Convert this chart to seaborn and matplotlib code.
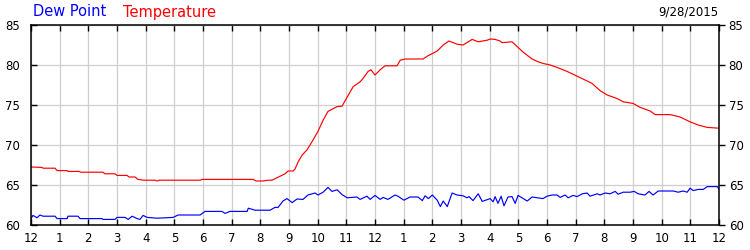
import matplotlib
matplotlib.use("Agg")
import matplotlib.pyplot as plt
import seaborn as sns
import pandas as pd

# Temperature readings (hours since midnight, deg F)
temp_hours = [0.0, 0.38, 0.42, 0.84, 0.91, 1.26, 1.29, 1.67, 1.74, 2.51, 2.58, 2.93,
              3.0, 3.35, 3.42, 3.63, 3.73, 3.94, 4.33, 4.40, 4.47, 5.90, 5.97, 7.75,
              7.85, 8.09, 8.27, 8.41, 8.86, 8.97, 9.14, 9.21, 9.32, 9.46, 9.63, 9.80,
              10.01, 10.19, 10.36, 10.68, 10.85, 11.03, 11.24, 11.48, 11.58, 11.76, 11.86,
              12.0, 12.18, 12.35, 12.77, 12.88, 13.05, 13.68, 13.82, 14.17, 14.38, 14.58,
              14.86, 15.07, 15.39, 15.60, 15.91, 16.02, 16.19, 16.36, 16.43, 16.78, 16.96,
              17.17, 17.48, 17.66, 17.86, 18.11, 18.35, 18.70, 19.05, 19.40, 19.57, 19.85,
              20.10, 20.45, 20.66, 21.00, 21.25, 21.60, 21.77, 22.30, 22.64, 22.99, 23.27,
              23.59, 24.0]
temp_values = [67.25, 67.2, 67.1, 67.1, 66.8, 66.8, 66.7, 66.7, 66.6, 66.6, 66.4, 66.4,
               66.2, 66.2, 66.0, 66.0, 65.7, 65.6, 65.6, 65.5, 65.6, 65.6, 65.7, 65.7,
               65.5, 65.5, 65.6, 65.6, 66.4, 66.75, 66.75, 67.0, 67.9, 68.75, 69.4, 70.4,
               71.7, 73.1, 74.2, 74.8, 74.85, 76.0, 77.3, 77.9, 78.3, 79.2, 79.4,
               78.75, 79.4, 79.9, 79.9, 80.6, 80.75, 80.75, 81.1, 81.75, 82.5, 83.0,
               82.6, 82.5, 83.2, 82.9, 83.1, 83.25, 83.2, 83.0, 82.8, 82.9, 82.3,
               81.6, 80.75, 80.45, 80.2, 80.0, 79.7, 79.2, 78.6, 78.0, 77.7, 76.8,
               76.25, 75.8, 75.4, 75.2, 74.7, 74.25, 73.8, 73.8, 73.5, 72.9, 72.5,
               72.2, 72.1]

# Dew point readings (hours since midnight, deg F)
dew_hours = [0.0, 0.07, 0.21, 0.31, 0.42, 0.84, 0.91, 1.26, 1.29, 1.64, 1.71, 2.48,
             2.51, 2.93, 3.0, 3.28, 3.39, 3.53, 3.70, 3.80, 3.91, 4.05, 4.40, 4.96,
             5.13, 5.90, 6.07, 6.66, 6.77, 6.94, 7.54, 7.58, 7.82, 8.34, 8.51, 8.62,
             8.79, 8.93, 9.11, 9.28, 9.49, 9.66, 9.91, 10.01, 10.19, 10.36, 10.50, 10.68,
             10.85, 11.03, 11.37, 11.48, 11.72, 11.83, 12.0, 12.18, 12.28, 12.45, 12.70,
             12.80, 13.01, 13.22, 13.50, 13.65, 13.75, 13.86, 14.0, 14.17, 14.28, 14.38,
             14.52, 14.69, 14.86, 15.07, 15.21, 15.28, 15.42, 15.60, 15.74, 16.02, 16.12,
             16.19, 16.29, 16.40, 16.50, 16.64, 16.78, 16.89, 16.99, 17.17, 17.31, 17.48,
             17.66, 17.86, 18.00, 18.18, 18.35, 18.46, 18.63, 18.74, 18.91, 19.05, 19.23,
             19.40, 19.50, 19.75, 19.85, 20.03, 20.20, 20.38, 20.48, 20.66, 20.90, 21.04,
             21.18, 21.42, 21.56, 21.70, 21.88, 22.40, 22.58, 22.75, 22.89, 22.99, 23.10,
             23.27, 23.45, 23.59, 23.94, 24.0]
dew_values = [60.8, 61.2, 60.9, 61.25, 61.1, 61.1, 60.8, 60.8, 61.1, 61.1, 60.8, 60.8,
              60.7, 60.7, 60.95, 60.95, 60.7, 61.1, 60.8, 60.7, 61.2, 60.95, 60.85, 60.95,
              61.25, 61.25, 61.7, 61.7, 61.45, 61.7, 61.7, 62.1, 61.85, 61.85, 62.2, 62.2,
              63.0, 63.3, 62.8, 63.25, 63.2, 63.75, 64.0, 63.75, 64.1, 64.7, 64.2, 64.4,
              63.8, 63.4, 63.5, 63.2, 63.6, 63.2, 63.7, 63.2, 63.45, 63.2, 63.75,
              63.6, 63.1, 63.5, 63.5, 63.05, 63.65, 63.3, 63.75, 63.1, 62.3, 63.0,
              62.3, 64.0, 63.75, 63.65, 63.4, 63.55, 63.05, 63.9, 62.95, 63.3, 62.9,
              63.55, 62.7, 63.6, 62.4, 63.5, 63.55, 62.7, 63.7, 63.3, 63.0, 63.5,
              63.4, 63.3, 63.6, 63.75, 63.75, 63.45, 63.75, 63.4, 63.7, 63.55, 63.9,
              64.0, 63.6, 63.9, 63.75, 64.0, 63.9, 64.2, 63.85, 64.1, 64.1, 64.2,
              63.9, 63.75, 64.2, 63.75, 64.25, 64.25, 64.1, 64.25, 64.1, 64.6, 64.3,
              64.45, 64.45, 64.8, 64.8, 64.5]

x_tick_labels = ["12", "1", "2", "3", "4", "5", "6", "7", "8", "9", "10", "11",
                 "12", "1", "2", "3", "4", "5", "6", "7", "8", "9", "10", "11", "12"]
y_ticks = [60, 65, 70, 75, 80, 85]
series_names = ["Dew Point", "Temperature"]
date_label = "9/28/2015"

sns.set_style("white")
plt.rcParams["font.family"] = ["DejaVu Sans"]

temp_df = pd.DataFrame({"hour": temp_hours, "value": temp_values})
dew_df = pd.DataFrame({"hour": dew_hours, "value": dew_values})

fig = plt.figure(figsize=(7.5, 2.5), dpi=100)
ax = fig.add_axes([31 / 750, 25 / 250, 688 / 750, 200 / 250])

sns.lineplot(data=temp_df, x="hour", y="value", ax=ax, color="#FF0000", lw=0.85)
sns.lineplot(data=dew_df, x="hour", y="value", ax=ax, color="#0000FF", lw=0.85)

ax.set_xlim(0, 24)
ax.set_ylim(60, 85)
ax.set_xticks(range(25))
ax.set_xticklabels(x_tick_labels)
ax.set_yticks(y_ticks)
ax.set_xlabel("")
ax.set_ylabel("")

ax.grid(True, color="#CFCFCF", lw=0.9)
ax.set_axisbelow(True)
for s in ax.spines.values():
    s.set_color("black")
    s.set_linewidth(1.1)

ax.tick_params(axis="x", direction="in", top=True, bottom=True, length=4, width=1,
               colors="black", labelsize=8.5, pad=5)
ax.tick_params(axis="y", direction="in", left=True, right=False, length=4, width=1,
               colors="black", labelsize=8.5, pad=8)

ax2 = ax.twinx()
ax2.set_ylim(60, 85)
ax2.set_yticks(y_ticks)
ax2.tick_params(axis="y", direction="out", length=4, width=1, colors="black",
                labelsize=8.5, pad=3)
for s in ax2.spines.values():
    s.set_visible(False)

fig.text(33 / 750, 1 - 12 / 250, series_names[0], color="#0000FF", fontsize=10.5,
         va="center", ha="left")
fig.text(123 / 750, 1 - 12 / 250, series_names[1], color="#FF0000", fontsize=10.5,
         va="center", ha="left")
fig.text(718 / 750, 1 - 12 / 250, date_label, color="black", fontsize=8.5,
         va="center", ha="right")

fig.savefig("out.png", dpi=100)
